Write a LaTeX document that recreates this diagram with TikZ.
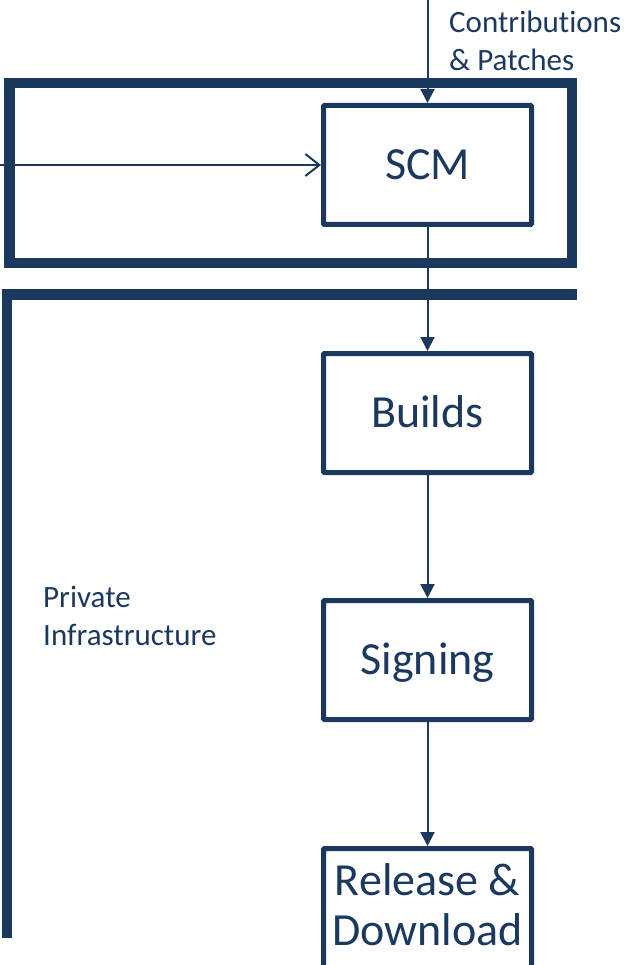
\documentclass[tikz,border=0pt]{standalone}
\usepackage{fontspec}
\setmainfont{Carlito}[Ligatures={NoCommon,NoContextual,NoRequired}]
\usetikzlibrary{arrows.meta}
\definecolor{navy}{RGB}{27,56,94}
\begin{document}
\begin{tikzpicture}[x=1pt,y=-1pt,
  stage/.style={draw=navy, line width=5pt, rounded corners=1pt,
    minimum width=208pt, minimum height=119pt, inner sep=0pt,
    text=navy, font=\fontsize{46}{50}\selectfont, align=center},
  oneline/.style={text height=29.5pt, text depth=0pt},
  frame/.style={draw=navy, line width=10.5pt},
  flow/.style={draw=navy, line width=2pt, -{Triangle[length=14pt,width=14pt]}},
  flowopen/.style={draw=navy, line width=2pt, -{Straight Barb[length=14pt,width=22pt]}},
  label/.style={text=navy, font=\fontsize{31}{38}\selectfont, align=left,
    inner sep=0pt, anchor=base west}]
\useasboundingbox (0,0) rectangle (635,965);
\clip (0,0) rectangle (635,965);
% regions
\draw[frame] (9.5,83) rectangle (572,263);
\draw[frame] (577,294.5) -- (7,294.5) -- (7,938);
% stages
\node[stage, oneline] (scm) at (427.5,165) {SCM};
\node[stage, oneline] (builds) at (427.5,413) {Builds};
\node[stage, oneline] (signing) at (427.5,660) {Signing};
\node[stage, text depth=7pt] (release) at (427.5,908) {Release \&\\Download};
% labels
\node[label] (contrib) at (449,71) {Contributions\\\& Patches};
\node[label] (private) at (43,645) {Private\\Infrastructure};
% connectors
\coordinate (src) at (427.5,0);
\coordinate (ext) at (0,165);
\draw[flow] (src) -- (scm.north);
\draw[flowopen] (ext) -- (scm.west);
\draw[flow] (scm.south) -- (builds.north);
\draw[flow] (builds.south) -- (signing.north);
\draw[flow] (signing.south) -- (release.north);
\end{tikzpicture}
\end{document}
